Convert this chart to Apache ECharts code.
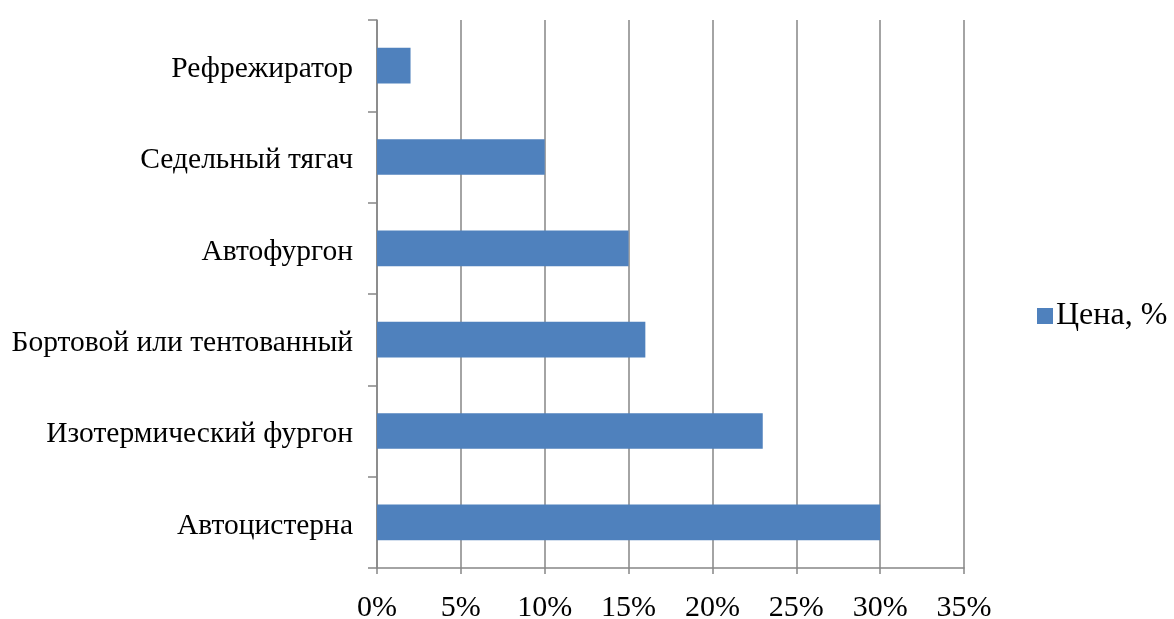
<!DOCTYPE html>
<html>
<head>
<meta charset="utf-8">
<script src="https://cdn.jsdelivr.net/npm/echarts@6/dist/echarts.min.js"></script>
<style>
  html, body { margin: 0; padding: 0; background: #fff; }
  #chart { width: 1174px; height: 619px; }
</style>
</head>
<body>
<div id="chart"></div>
<script>
// Vehicle types, listed bottom-to-top as on the category axis
const categories = [
  'Автоцистерна',
  'Изотермический фургон',
  'Бортовой или тентованный',
  'Автофургон',
  'Седельный тягач',
  'Рефрежиратор'
];
// Price share, %
const priceShare = [30, 23, 16, 15, 10, 2];
const seriesName = 'Цена, %';
const xMin = 0, xMax = 35, xStep = 5;

const axisGray = '#868686';
const font = 'Liberation Serif, Times New Roman, serif';

const chart = echarts.init(document.getElementById('chart'), null, { renderer: 'canvas' });
chart.setOption({
  animation: false,
  backgroundColor: '#ffffff',
  textStyle: { fontFamily: font },
  grid: {
    left: 377, right: 210, top: 20, bottom: 51,
    containLabel: false,
    outerBoundsMode: 'none'
  },
  legend: {
    data: [seriesName],
    left: 1037,
    top: 300,
    padding: 0,
    orient: 'vertical',
    icon: 'rect',
    itemWidth: 16,
    itemHeight: 16,
    itemGap: 0,
    textStyle: { fontFamily: font, fontSize: 32, lineHeight: 32, color: '#000', padding: [0, 0, 0, -2] }
  },
  xAxis: {
    type: 'value',
    min: xMin,
    max: xMax,
    interval: xStep,
    axisLine: { show: true, lineStyle: { color: axisGray, width: 1.5 } },
    axisTick: { show: true, length: 6, lineStyle: { color: axisGray, width: 1.5 } },
    splitLine: { show: true, lineStyle: { color: axisGray, width: 1.5 } },
    axisLabel: {
      fontFamily: font, fontSize: 30, color: '#000', margin: 25,
      formatter: v => v + '%'
    }
  },
  yAxis: {
    type: 'category',
    data: categories,
    boundaryGap: true,
    axisLine: { show: true, lineStyle: { color: axisGray, width: 1.5 } },
    axisTick: { show: true, length: 9, alignWithLabel: false, lineStyle: { color: axisGray, width: 1.5 } },
    splitLine: { show: false },
    axisLabel: {
      margin: 24,
      formatter: v => '{c|' + v + '}',
      rich: {
        c: { fontFamily: font, fontSize: 29.5, lineHeight: 32, color: '#000', padding: [7, 0, 0, 0] }
      }
    }
  },
  series: [{
    name: seriesName,
    type: 'bar',
    data: priceShare,
    barWidth: '39%',
    itemStyle: { color: '#4F81BD' }
  }]
});
</script>
</body>
</html>
